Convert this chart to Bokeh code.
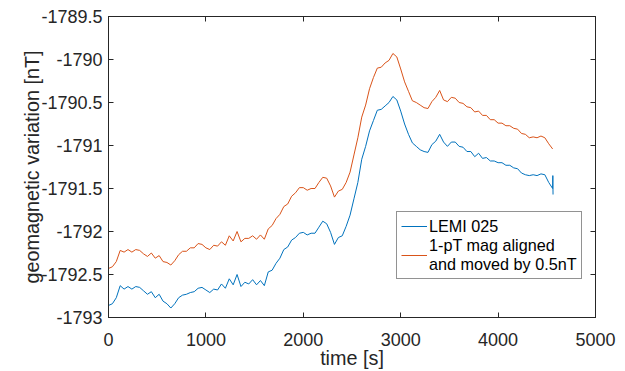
from bokeh.plotting import figure
from bokeh.models import Range1d, FixedTicker, NumeralTickFormatter, LinearAxis, Legend, LegendItem
from bokeh.embed import file_html
from bokeh.resources import INLINE

# ---- data ----
time_s = list(range(0, 4561, 40))

lemi = [
    -1792.86, -1792.84, -1792.77, -1792.63, -1792.67, -1792.64, -1792.67, -1792.64, -1792.65, -1792.69,
    -1792.73, -1792.70, -1792.77, -1792.73, -1792.81, -1792.84, -1792.89, -1792.84, -1792.77, -1792.74,
    -1792.73, -1792.71, -1792.70, -1792.66, -1792.65, -1792.68, -1792.71, -1792.67, -1792.68, -1792.61,
    -1792.66, -1792.55, -1792.62, -1792.50, -1792.64, -1792.59, -1792.61, -1792.56, -1792.62, -1792.57,
    -1792.63, -1792.47, -1792.45, -1792.37, -1792.31, -1792.21, -1792.18, -1792.10, -1792.07, -1792.02,
    -1792.01, -1792.04, -1792.02, -1792.02, -1791.95, -1791.88, -1791.91, -1792.01, -1792.15, -1792.07,
    -1792.05, -1791.94, -1791.81, -1791.62, -1791.43, -1791.16, -1791.01, -1790.83, -1790.71, -1790.59,
    -1790.58, -1790.54, -1790.50, -1790.43, -1790.47, -1790.60, -1790.75, -1790.87, -1790.97, -1791.01,
    -1791.05, -1791.07, -1791.08, -1790.99, -1790.95, -1790.87, -1790.96, -1791.01, -1790.96, -1790.96,
    -1791.01, -1791.02, -1791.07, -1791.07, -1791.13, -1791.09, -1791.15, -1791.14, -1791.18, -1791.18,
    -1791.20, -1791.20, -1791.23, -1791.23, -1791.26, -1791.27, -1791.32, -1791.34, -1791.35, -1791.34,
    -1791.35, -1791.33, -1791.34, -1791.43, -1791.50,
]
lemi_tail_t = [4562, 4564]
lemi_tail = [-1791.35, -1791.57]

mag = [
    -1792.43, -1792.41, -1792.35, -1792.22, -1792.24, -1792.21, -1792.24, -1792.21, -1792.22, -1792.26,
    -1792.29, -1792.25, -1792.31, -1792.28, -1792.35, -1792.36, -1792.39, -1792.34, -1792.27, -1792.23,
    -1792.23, -1792.19, -1792.19, -1792.14, -1792.15, -1792.19, -1792.21, -1792.16, -1792.17, -1792.12,
    -1792.16, -1792.05, -1792.11, -1792.00, -1792.12, -1792.08, -1792.08, -1792.05, -1792.09, -1792.04,
    -1792.09, -1791.97, -1791.93, -1791.85, -1791.80, -1791.71, -1791.68, -1791.59, -1791.55, -1791.49,
    -1791.49, -1791.52, -1791.50, -1791.50, -1791.43, -1791.37, -1791.38, -1791.47, -1791.60, -1791.53,
    -1791.51, -1791.43, -1791.31, -1791.11, -1790.91, -1790.67, -1790.53, -1790.34, -1790.21, -1790.10,
    -1790.09, -1790.04, -1790.01, -1789.93, -1789.97, -1790.11, -1790.26, -1790.37, -1790.48, -1790.50,
    -1790.53, -1790.56, -1790.57, -1790.49, -1790.44, -1790.36, -1790.47, -1790.49, -1790.44, -1790.45,
    -1790.50, -1790.51, -1790.55, -1790.56, -1790.61, -1790.60, -1790.65, -1790.65, -1790.70, -1790.70,
    -1790.74, -1790.74, -1790.77, -1790.77, -1790.80, -1790.81, -1790.86, -1790.87, -1790.91, -1790.90,
    -1790.91, -1790.89, -1790.91, -1790.98, -1791.04,
]

x_ticks = [0, 1000, 2000, 3000, 4000, 5000]
y_ticks = [-1793, -1792.5, -1792, -1791.5, -1791, -1790.5, -1790, -1789.5]
series_names = ["LEMI 025", "1-pT mag aligned\nand moved by 0.5nT"]
series_colors = ["#0072BD", "#D95319"]

FONT = "Liberation Sans"
AX = "#262626"

p = figure(width=617, height=371, output_backend="svg", toolbar_location=None,
           x_range=Range1d(0, 5000), y_range=Range1d(-1793, -1789.5),
           min_border_left=108, min_border_right=22, min_border_top=16, min_border_bottom=51)
p.xgrid.visible = False
p.ygrid.visible = False
p.outline_line_color = AX
p.outline_line_width = 1
p.background_fill_color = "white"
p.border_fill_color = "white"

r1 = p.line(time_s + lemi_tail_t, lemi + lemi_tail, line_color=series_colors[0], line_width=1)
r2 = p.line(time_s, mag, line_color=series_colors[1], line_width=1)


def style(ax):
    ax.axis_line_color = AX
    ax.major_tick_line_color = AX
    ax.major_tick_in = 5
    ax.major_tick_out = 0
    ax.minor_tick_line_color = None
    ax.major_label_text_font = FONT
    ax.major_label_text_color = AX
    ax.major_label_text_font_size = "18px"
    ax.axis_label_text_font = FONT
    ax.axis_label_text_font_style = "normal"
    ax.axis_label_text_color = AX
    ax.axis_label_text_font_size = "19.8px"


xa = p.xaxis[0]
ya = p.yaxis[0]
xa.ticker = FixedTicker(ticks=x_ticks)
ya.ticker = FixedTicker(ticks=y_ticks)
ya.formatter = NumeralTickFormatter(format="0.[0]")
style(xa)
style(ya)
xa.axis_label = "time [s]"
ya.axis_label = "geomagnetic variation [nT]"
xa.major_label_standoff = 15
xa.axis_label_standoff = -2
ya.major_label_standoff = 6
ya.axis_label_standoff = -5

xt = LinearAxis(ticker=FixedTicker(ticks=x_ticks))
yr = LinearAxis(ticker=FixedTicker(ticks=y_ticks))
style(xt)
style(yr)
xt.major_label_overrides = {t: "" for t in x_ticks}
yr.major_label_overrides = {t: "" for t in y_ticks}
xt.major_label_standoff = 0
yr.major_label_standoff = 0
p.add_layout(xt, "above")
p.add_layout(yr, "right")

legend = Legend(items=[LegendItem(label=series_names[0], renderers=[r1]),
                       LegendItem(label=series_names[1], renderers=[r2])],
                location=(288, 38))
legend.label_text_font = FONT
legend.label_text_font_size = "16.2px"
legend.label_text_color = "black"
legend.glyph_width = 26
legend.glyph_height = 20
legend.label_standoff = 2
legend.spacing = 0
legend.padding = 4
legend.margin = 0
legend.border_line_color = AX
legend.border_line_width = 1
legend.background_fill_alpha = 1
p.add_layout(legend)

open("out.html", "w").write(file_html(p, INLINE))
